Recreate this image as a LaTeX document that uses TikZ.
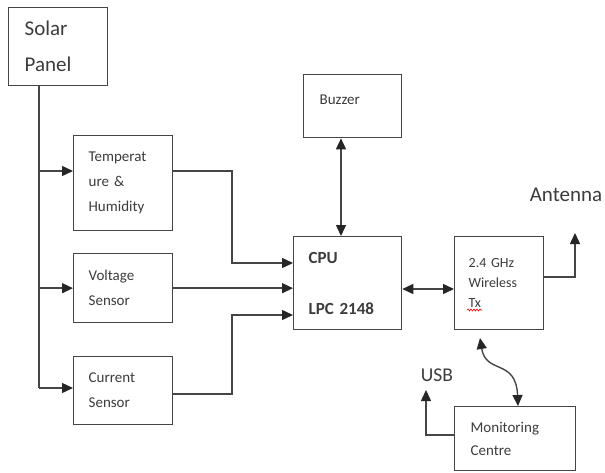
\documentclass[tikz,border=0pt]{standalone}
\usepackage{fontspec}
\setmainfont{Carlito}
\usetikzlibrary{arrows.meta,calc,decorations.pathmorphing}
\definecolor{ln}{HTML}{454545}
\definecolor{tx}{HTML}{3C3C3C}
\begin{document}
\begin{tikzpicture}[x=1pt,y=-1pt,
  box/.style={draw=ln, line width=1.3pt, anchor=north west, align=left, text=tx,
    inner ysep=0pt, font=\fontsize{15}{25}\selectfont},
  lbl/.style={text=tx, inner sep=0pt},
  conn/.style={draw=ln, line width=1.4pt},
  tip/.tip={Triangle[length=11pt,width=10pt,color=black!85]},
  arr/.style={conn, -tip},
  darr/.style={conn, tip-tip}]
\useasboundingbox (0,0) rectangle (605,472);

% boxes
\node[box, minimum width=99pt, minimum height=78pt, text width=67pt, inner xsep=16pt,
  font=\fontsize{21}{36}\selectfont] (solar) at (8,7) {Solar\\Panel};
\node[box, minimum width=99pt, minimum height=95pt, text width=69pt, inner xsep=15pt] (temp) at (73,135) {Temperat\\ure \&\\Humidity};
\node[box, minimum width=99pt, minimum height=69pt, text width=69pt, inner xsep=15pt] (volt) at (73,253) {Voltage\\Sensor};
\node[box, minimum width=99pt, minimum height=68pt, text width=69pt, inner xsep=15pt] (curr) at (73,356) {Current\\Sensor};
\node[box, minimum width=98pt, minimum height=63pt, text width=66pt, inner xsep=16pt, text depth=13pt] (buzzer) at (303,74) {Buzzer};
\node[box, minimum width=108pt, minimum height=93pt, text width=78pt, inner xsep=15pt,
  font=\bfseries\fontsize{17}{51}\selectfont] (cpu) at (293,236) {CPU\\LPC 2148};
\node[box, minimum width=89pt, minimum height=93pt, text width=61pt, inner xsep=14pt,
  font=\fontsize{14}{20}\selectfont] (wl) at (454,236) {2.4 GHz\\Wireless\\Tx};
\node[box, minimum width=121pt, minimum height=64pt, text width=89pt, inner xsep=16pt,
  font=\fontsize{15}{23}\selectfont] (mon) at (454,406) {Monitoring\\Centre};

% free labels
\node[lbl, font=\fontsize{21}{25}\selectfont] (ant) at (566,195) {Antenna};
\node[lbl, font=\fontsize{19.5}{24}\selectfont] (usb) at (437,375) {USB};

% spell-check squiggle under Tx
\draw[red, line width=0.6pt, decorate, decoration={snake, amplitude=1pt, segment length=3pt}] (467,310) -- (482,310);

% solar panel distribution
\coordinate (spine) at (39,388);
\draw[conn] (solar.south -| spine) -- (spine);
\draw[arr] (spine |- 0,171) -- (temp.west |- 0,171);
\draw[arr] (spine |- volt.west) -- (volt.west);
\draw[arr] (spine) -- (curr.west |- spine);

% sensors to CPU
\draw[arr] (temp.east |- 0,171) -| (232,263) -- (cpu.west |- 0,263);
\draw[arr] (volt.east) -- (cpu.west |- volt.east);
\draw[arr] (curr.east |- 0,394) -| (232,315) -- (cpu.west |- 0,315);

% buzzer, wireless
\draw[darr] (buzzer.south -| 341,0) -- (cpu.north -| 341,0);
\draw[darr] (cpu.east |- 0,289) -- (wl.west |- 0,289);

% antenna
\coordinate (antend) at (575,233);
\draw[arr] (wl.east |- 0,277) -| (antend);

% USB
\coordinate (usbend) at (426,390);
\draw[arr] (mon.west |- 0,435) -| (usbend);

% wireless link
\coordinate (ctop) at (480,338);
\draw[darr] (ctop) .. controls (486,375) and (516,358) .. (mon.north -| 518,0);
\end{tikzpicture}
\end{document}
